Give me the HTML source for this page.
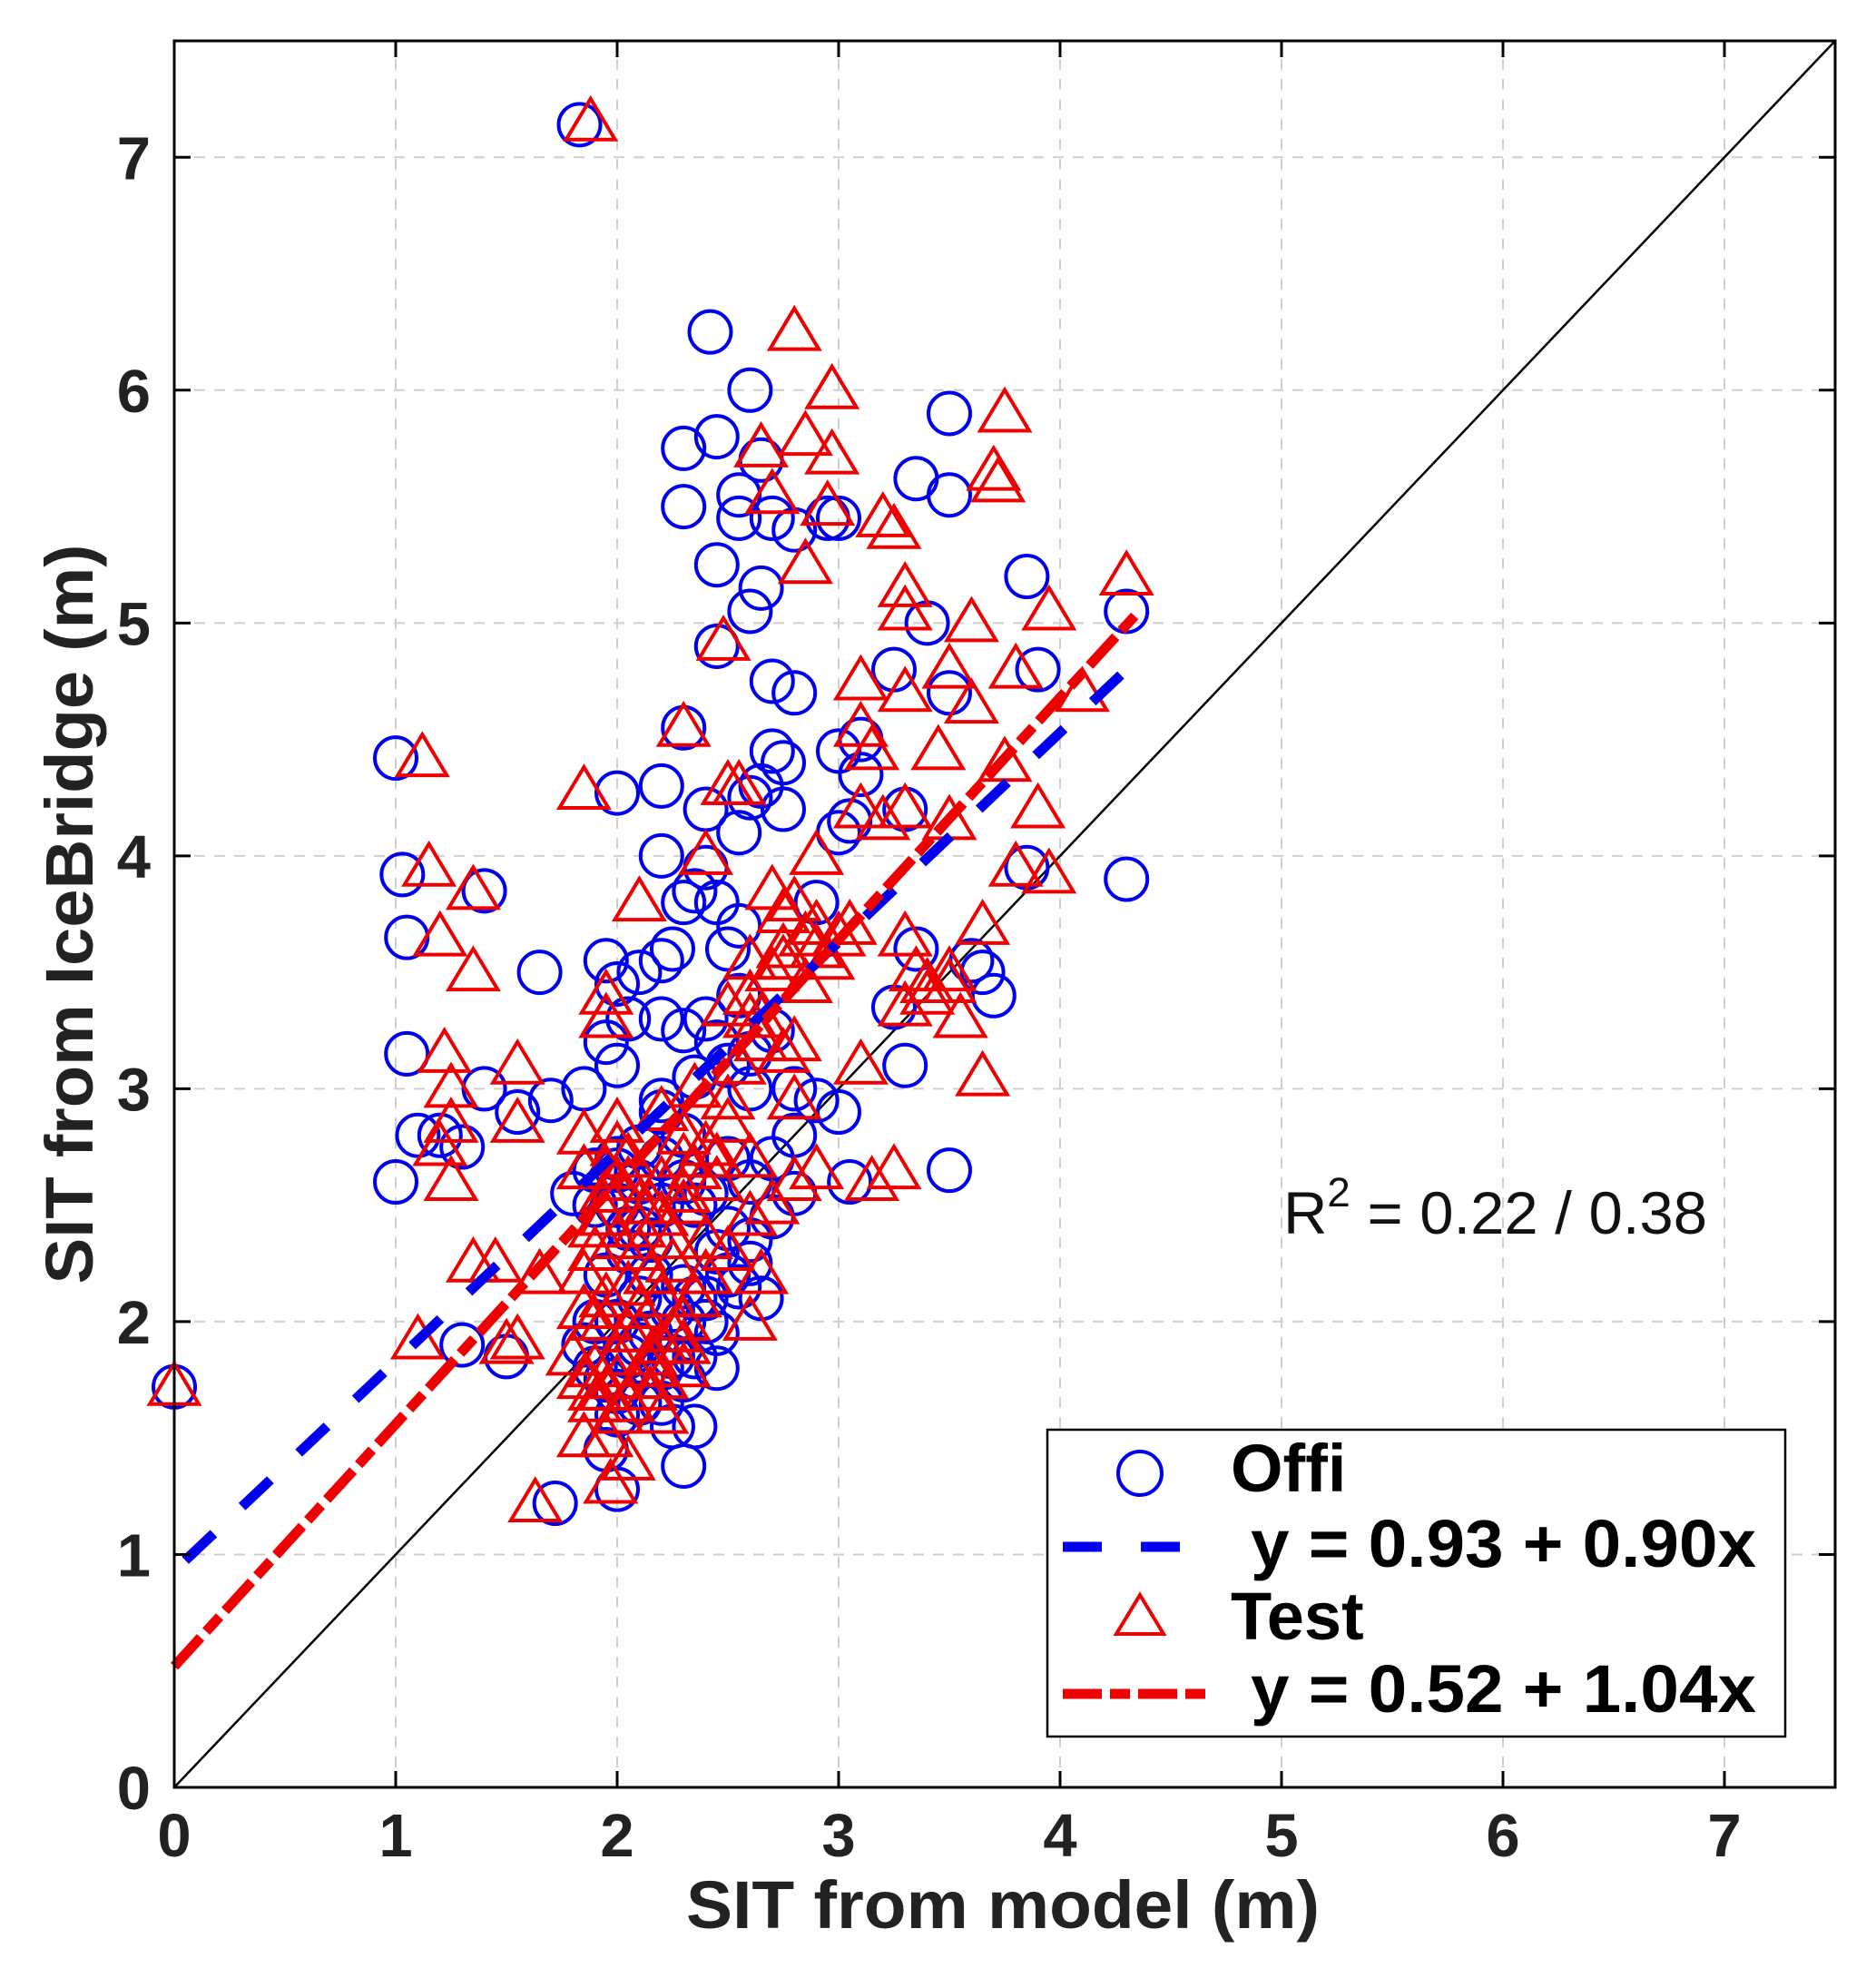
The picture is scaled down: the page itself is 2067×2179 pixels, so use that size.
<!DOCTYPE html>
<html><head><meta charset="utf-8"><style>
html,body{margin:0;padding:0;background:#fff;}
svg{display:block;}
text{font-family:"Liberation Sans",Arial,sans-serif;}
</style></head><body>
<svg id="chart" width="2067" height="2179" viewBox="0 0 2067 2179" xmlns="http://www.w3.org/2000/svg">
<rect width="2067" height="2179" fill="#fff"/>
<g id="grid"></g>
<g id="marks"></g>
<g id="axes"></g>
<text x="1414" y="1359" font-size="66" fill="#111" textLength="467" lengthAdjust="spacingAndGlyphs">R<tspan dy="-30" font-size="45">2</tspan><tspan dy="30"> = 0.22 / 0.38</tspan></text>
<g>
<rect x="1154" y="1575" width="813" height="338" fill="#fff" stroke="#000" stroke-width="2.5"/>
<circle cx="1256" cy="1623" r="24" fill="none" stroke="#0000ee" stroke-width="4"/>
<text x="1356" y="1643" font-size="74" font-weight="bold">Offi</text>
<line x1="1171" y1="1704" x2="1300" y2="1704" stroke="#0000ee" stroke-width="11" stroke-dasharray="43 43"/>
<text x="1378" y="1726" font-size="74" font-weight="bold" textLength="557" lengthAdjust="spacingAndGlyphs">y = 0.93 + 0.90x</text>
<polygon points="1256,1757 1282,1800 1230,1800" fill="none" stroke="#ee0000" stroke-width="4"/>
<text x="1356" y="1806" font-size="74" font-weight="bold">Test</text>
<line x1="1171" y1="1866" x2="1331" y2="1866" stroke="#ee0000" stroke-width="11" stroke-dasharray="43 9 22 9"/>
<text x="1378" y="1886" font-size="74" font-weight="bold" textLength="557" lengthAdjust="spacingAndGlyphs">y = 0.52 + 1.04x</text>
</g>
<text x="1105" y="2124" font-size="74" font-weight="bold" text-anchor="middle" fill="#222" textLength="698" lengthAdjust="spacingAndGlyphs">SIT from model (m)</text>
<text transform="translate(102,1007) rotate(-90)" font-size="74" font-weight="bold" text-anchor="middle" fill="#222" textLength="815" lengthAdjust="spacingAndGlyphs">SIT from IceBridge (m)</text>
</svg>
<script>
const xTicks=[0,1,2,3,4,5,6,7];
const yTicks=[0,1,2,3,4,5,6,7];
const offiX=[1.83,2.42,2.6,3.5,2.3,2.45,2.65,2.55,2.3,2.55,2.7,3.35,3.5,2.95,3.0,2.8,2.45,2.65,2.6,3.85,3.4,4.3,2.45,2.7,2.8,3.9,3.5,3.25,2.3,2.7,2.75,1.0,2.0,2.2,2.65,3.0,3.1,3.1,3.05,2.4,2.55,2.6,2.2,2.4,2.35,2.45,1.03,1.4,1.05,1.65,2.3,2.55,2.5,4.3,3.85,1.95,2.1,2.2,2.25,2.0,2.05,2.2,2.3,2.4,1.05,1.95,2.0,1.85,1.4,1.55,1.7,1.1,1.2,1.3,1.0,3.7,3.65,3.3,3.25,3.5,3.05,2.9,3.0,2.8,2.6,2.2,2.3,2.0,1.9,2.1,2.2,2.0,2.05,2.15,2.3,2.5,2.6,2.65,2.4,2.0,2.1,1.3,1.5,2.35,2.45,2.3,2.2,2.0,1.9,2.25,2.35,1.95,2.3,1.72,2.0,0.0,2.6,2.7,2.8,2.5,3.0,3.3,2.9,2.75,3.6,3.35,
1.9,1.95,2.05,2.1,2.15,2.25,2.35,2.45,1.85,1.95,2.05,2.15,2.25,2.35,2.45,2.55,1.9,2.0,2.1,2.2,2.3,2.4,2.5,2.0,2.1,2.2,2.3,2.4,2.6,2.7,2.8,2.5,2.6,2.7,2.35,2.45,2.55,2.2,1.8,2.1];
const offiY=[7.14,6.25,6.0,5.9,5.75,5.8,5.7,5.55,5.5,5.45,5.45,5.62,5.55,5.45,5.45,5.4,5.25,5.15,5.05,5.2,5.0,5.05,4.9,4.75,4.7,4.8,4.7,4.8,4.55,4.45,4.4,4.42,4.27,4.3,4.3,4.45,4.5,4.35,4.15,4.2,4.1,4.25,4.0,3.95,3.85,3.8,3.92,3.85,3.65,3.5,3.8,3.7,3.6,3.9,3.95,3.55,3.5,3.55,3.6,3.45,3.3,3.3,3.25,3.3,3.15,3.2,3.1,3.0,3.0,2.9,2.95,2.8,2.8,2.75,2.6,3.4,3.5,3.1,3.35,2.65,2.6,2.95,2.9,3.0,3.0,2.9,2.8,2.7,2.65,2.6,2.5,2.5,2.3,2.2,2.15,2.2,2.25,2.1,2.0,2.0,1.9,1.9,1.85,1.85,1.8,1.75,1.65,1.7,1.8,1.55,1.55,1.45,1.38,1.22,1.28,1.72,2.6,2.7,2.8,2.4,4.1,4.2,3.8,4.2,3.55,3.6,
2.0,2.2,2.4,2.1,2.35,2.05,2.5,2.3,1.9,1.75,1.85,1.95,1.85,2.1,1.95,2.15,2.5,2.65,2.75,2.7,2.6,2.55,2.7,1.6,1.65,1.8,2.0,2.1,2.35,2.45,2.55,3.1,3.15,3.25,3.05,3.2,3.4,2.95,2.55,2.4];
const testX=[1.88,2.8,2.97,3.75,2.65,2.85,2.97,3.72,3.7,2.7,2.95,3.2,3.25,2.85,3.3,3.3,4.3,3.95,3.6,2.48,3.5,3.1,3.8,3.3,3.6,4.1,2.3,3.1,1.12,1.85,3.15,3.45,3.75,2.5,2.55,3.3,3.1,3.5,3.9,2.4,2.9,3.2,1.15,1.35,2.1,2.7,2.75,2.8,3.8,3.95,1.2,1.35,2.6,2.9,3.05,3.3,3.65,3.5,3.4,3.3,3.55,1.95,1.95,2.5,2.6,2.65,2.75,1.22,1.55,3.1,3.65,1.25,2.35,2.5,2.8,1.25,1.55,1.2,1.25,1.85,2.0,2.3,2.6,2.9,3.25,3.15,1.85,1.95,2.05,2.15,2.3,2.45,2.6,1.9,2.0,2.1,2.25,2.4,2.65,1.35,1.45,1.65,1.85,2.05,2.2,2.6,1.85,1.95,2.1,2.3,1.1,1.5,1.55,1.8,1.9,2.0,2.15,2.3,1.9,2.0,2.2,1.85,1.95,2.05,1.97,1.63,0.0,2.4,2.5,2.7,2.8,2.2,
1.9,1.95,2.0,2.05,2.1,2.15,2.2,2.25,1.9,1.95,2.0,2.05,2.1,2.15,2.2,2.3,2.35,1.85,1.9,1.95,2.05,2.1,2.15,2.2,2.25,1.95,2.0,2.1,2.2,2.3,2.4,2.5,2.7,2.75,2.85,2.6,2.65,2.55,2.8,2.45,2.35,2.3,2.75,2.9,2.95,3.0,2.85,3.35,3.4,3.5];
const testY=[7.15,6.25,6.0,5.9,5.75,5.8,5.72,5.6,5.65,5.55,5.5,5.45,5.4,5.25,5.15,5.05,5.2,5.05,5.0,4.92,4.8,4.75,4.8,4.7,4.65,4.7,4.55,4.55,4.42,4.28,4.45,4.45,4.4,4.3,4.3,4.2,4.2,4.15,4.2,4.0,4.0,4.15,3.95,3.85,3.8,3.85,3.75,3.8,3.95,3.92,3.65,3.5,3.55,3.6,3.7,3.65,3.7,3.5,3.45,3.35,3.3,3.4,3.3,3.35,3.3,3.2,3.15,3.15,3.1,3.1,3.05,3.0,3.0,2.95,2.95,2.85,2.85,2.75,2.6,2.8,2.85,2.8,2.7,2.65,2.65,2.6,2.65,2.55,2.6,2.5,2.55,2.6,2.45,2.4,2.35,2.3,2.25,2.2,2.2,2.25,2.25,2.2,2.2,2.15,2.1,2.0,2.05,2.0,1.95,1.9,1.92,1.9,1.92,1.85,1.8,1.75,1.7,1.8,1.7,1.6,1.6,1.5,1.5,1.4,1.3,1.22,1.72,2.35,2.3,2.5,2.6,2.9,
2.3,2.45,2.6,2.7,2.4,2.2,2.45,2.35,2.0,2.1,1.85,1.95,2.05,1.8,1.9,2.0,2.1,1.75,1.65,1.7,1.65,1.75,1.85,1.75,1.95,2.65,2.75,2.5,2.6,2.7,2.75,2.85,3.5,3.6,3.65,3.4,3.3,3.1,3.2,2.7,2.65,2.5,3.55,3.7,3.55,3.65,3.45,3.5,3.4,3.45];
const fitOffi=[0.93,0.90]; const fitOffiRange=[0.05,4.3];
const fitTest=[0.52,1.04]; const fitTestRange=[0,4.35];

const X0=192,X1=2022,Y0=1969,Y1=45,XMAX=7.5,YMAX=7.5;
const sx=v=>X0+(X1-X0)*v/XMAX, sy=v=>Y0-(Y0-Y1)*v/YMAX;
const NS='http://www.w3.org/2000/svg';
function mk(tag,attrs,parent){const e=document.createElementNS(NS,tag);for(const k in attrs)e.setAttribute(k,attrs[k]);parent.appendChild(e);return e;}
const grid=document.getElementById('grid'),marks=document.getElementById('marks'),axes=document.getElementById('axes');
xTicks.forEach(t=>{if(t===0)return;const l=mk('line',{x1:sx(t),x2:sx(t),y1:Y0,y2:Y1,stroke:'#cfcfcf','stroke-width':2,'stroke-dasharray':'12 10'},grid);

});
yTicks.forEach(t=>{if(t===0)return;const l=mk('line',{x1:X0,x2:X1,y1:sy(t),y2:sy(t),stroke:'#cfcfcf','stroke-width':2,'stroke-dasharray':'12 10'},grid);

});
const d=mk('line',{x1:sx(0),y1:sy(0),x2:sx(7.5),y2:sy(7.5),stroke:'#000','stroke-width':2.5},marks);


for(let i=0;i<offiX.length;i++){const c=mk('circle',{cx:sx(offiX[i]),cy:sy(offiY[i]),r:23,fill:'none',stroke:'#0000ee','stroke-width':4},marks);

}
for(let i=0;i<testX.length;i++){const x=sx(testX[i]),y=sy(testY[i]);const p=mk('polygon',{points:`${x},${y-26} ${x+27},${y+19} ${x-27},${y+19}`,fill:'none',stroke:'#ee0000','stroke-width':4},marks);

}
const lb=mk('line',{x1:sx(fitOffiRange[0]),y1:sy(fitOffi[0]+fitOffi[1]*fitOffiRange[0]),x2:sx(fitOffiRange[1]),y2:sy(fitOffi[0]+fitOffi[1]*fitOffiRange[1]),stroke:'#0000ee','stroke-width':11,'stroke-dasharray':'43 43'},marks);


const lr=mk('line',{x1:sx(fitTestRange[0]),y1:sy(fitTest[0]+fitTest[1]*fitTestRange[0]),x2:sx(fitTestRange[1]),y2:sy(fitTest[0]+fitTest[1]*fitTestRange[1]),stroke:'#ee0000','stroke-width':11,'stroke-dasharray':'43 9 22 9'},marks);


const fr=mk('rect',{x:X0,y:Y1,width:X1-X0,height:Y0-Y1,fill:'none',stroke:'#000','stroke-width':3},axes);


xTicks.forEach(t=>{
 mk('line',{x1:sx(t),x2:sx(t),y1:Y0,y2:Y0-18,stroke:'#000','stroke-width':3},axes);
 mk('line',{x1:sx(t),x2:sx(t),y1:Y1,y2:Y1+18,stroke:'#000','stroke-width':3},axes);
 const tx=mk('text',{x:sx(t),y:2045,'font-size':67,'font-weight':'bold','text-anchor':'middle',fill:'#222'},axes);tx.textContent=t;
 
 });
yTicks.forEach(t=>{
 mk('line',{x1:X0,x2:X0+18,y1:sy(t),y2:sy(t),stroke:'#000','stroke-width':3},axes);
 mk('line',{x1:X1,x2:X1-18,y1:sy(t),y2:sy(t),stroke:'#000','stroke-width':3},axes);
 const tx=mk('text',{x:166,y:sy(t)+24,'font-size':67,'font-weight':'bold','text-anchor':'end',fill:'#222'},axes);tx.textContent=t;
 
 });
</script>
</body></html>
